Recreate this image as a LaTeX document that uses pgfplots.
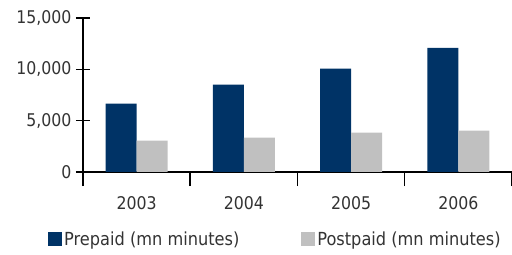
\documentclass[border=0pt]{standalone}
\usepackage{pgfplots}
\pgfplotsset{compat=1.18}
\usepackage{fontspec}
\setmainfont{DejaVu Sans Condensed}
\definecolor{navy}{RGB}{0,51,102}
\definecolor{lgray}{RGB}{192,192,192}
\definecolor{txt}{RGB}{51,51,51}
\begin{document}
\begin{tikzpicture}
\begin{axis}[
  at={(83bp,83bp)}, anchor=south west,
  scale only axis, width=429bp, height=154bp,
  xmin=0.5, xmax=4.5, ymin=0, ymax=15000,
  axis x line=bottom, axis y line=left,
  axis line style={line width=1.5bp, -},
  xtick={1,2,3,4}, xticklabels={2003,2004,2005,2006},
  minor xtick={0.5,1.5,2.5,3.5,4.5},
  major x tick style={draw=none},
  minor x tick style={line width=1.5bp, black},
  minor tick length=14bp,
  ytick={0,5000,10000,15000},
  y tick style={line width=1.5bp, black},
  major tick length=14bp,
  tick align=center,
  scaled y ticks=false,
  /pgf/number format/assume math mode=true,
  /pgf/number format/1000 sep={,},
  tick label style={font=\fontsize{17.5bp}{20bp}\selectfont, text=txt},
  xticklabel style={yshift=-7bp},
  yticklabel style={xshift=-1bp},
  ybar, bar width=0.29,
  legend style={at={(-0.081,-0.435)}, anchor=west, draw=none, fill=none,
    font=\fontsize{18bp}{21bp}\selectfont, text=txt, legend columns=2,
    /tikz/every even column/.append style={column sep=60bp},
    inner sep=0pt, outer sep=0pt},
  legend image code/.code={\fill[#1] (0bp,-7bp) rectangle (14bp,7bp);},
]
\addplot[fill=navy, draw=none, bar shift=-0.145] coordinates {(1,6650) (2,8500) (3,10060) (4,12100)};
\addplot[fill=lgray, draw=none, bar shift=0.145] coordinates {(1,3050) (2,3340) (3,3830) (4,4020)};
\legend{Prepaid (mn minutes), Postpaid (mn minutes)}
\end{axis}
\pgfresetboundingbox
\path[use as bounding box] (0,0) rectangle (512bp,255bp);
\end{tikzpicture}
\end{document}
